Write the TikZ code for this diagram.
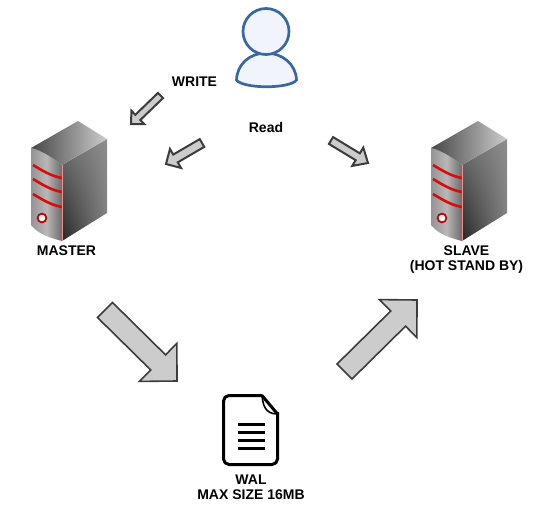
\documentclass[tikz,border=0pt]{standalone}
\usepackage{fontspec}
\usepackage{tikz}
\usetikzlibrary{calc,shadings}
\setmainfont{Liberation Sans}
\definecolor{arrowfill}{HTML}{CCCCCC}
\definecolor{arrowline}{HTML}{3C3C3C}
\definecolor{userline}{HTML}{3A679F}
\definecolor{userfill}{HTML}{F1F4FA}
\definecolor{stripe}{HTML}{DD0A0A}
\newcommand{\blockarrow}[6][1pt]{%
  \draw[blockline, line width=#1]
    ($(#2)!#4!90:(#6)$) -- ($(#2)!#4!-90:(#6)$)
    -- ($(#6)!#5!(#2)!#4!-90:(#6)$) -- ($(#6)!#5!(#2)!#3!-90:(#6)$)
    -- (#6)
    -- ($(#6)!#5!(#2)!#3!90:(#6)$) -- ($(#6)!#5!(#2)!#4!90:(#6)$) -- cycle;}
\newcommand{\server}[2]{%
  \begin{scope}[shift={(#1,#2)}]
    \shade[left color=black!42, right color=black!58, middle color=black!28] (0,27) .. controls (10,29) and (22,37) .. (31,44) -- (31,120) .. controls (20,117) and (8,114) .. (0,104) -- cycle;
    \shade[upper left=black!55, upper right=black!45, lower left=black!85, lower right=black!50] (31,44) -- (76,18) -- (76,92) -- (31,120) -- cycle;
    \shade[left color=black!72, right color=black!20] (0,27) -- (47,0) -- (76,18) -- (31,44) .. controls (22,37) and (10,29) .. (0,27) -- cycle;
    \foreach \y in {0,14,29} {
      \draw[stripe, line width=2.6pt] (2,{44+\y}) .. controls (12,{50+\y}) and (20,{55+\y}) .. (31,{57+\y});
    }
    \draw[stripe!45!white, line width=.3pt] (31,44) -- (31,120);
    \draw[stripe!85!black, line width=1.8pt, fill=white] (11,97) circle (4.4);
  \end{scope}}
\tikzset{
  lbl/.style={font=\bfseries\fontsize{14}{15}\selectfont, align=center, inner sep=0pt},
  blockline/.style={draw=arrowline, fill=arrowfill, line join=miter},
}
\begin{document}
\begin{tikzpicture}[x=1pt, y=-1pt]
  \useasboundingbox (0,0) rectangle (554,517);
  % servers
  \server{31}{121}
  \server{431}{121}
  % user
  \draw[userline, fill=userfill, line width=2.7pt] (236.5,80) .. controls (237,64) and (250,53) .. (266,53) .. controls (282,53) and (296,64) .. (296.5,80) .. controls (290,89) and (243,89) .. (236.5,80) -- cycle;
  \draw[userline, fill=userfill, line width=2.7pt] (266,31.5) circle (23);
  % wal document
  \draw[black, line width=3pt, line join=round, rounded corners=5.5pt] (262,395.5) -- (223.5,395.5) -- (223.5,464.5) -- (277.5,464.5) -- (277.5,412);
  \draw[black, line width=3pt, line cap=round] (277.5,414) -- (262,395.5);
  \draw[black, line width=1.6pt] (262,395.5) .. controls (263,405) and (265,414) .. (277.5,414);
  \foreach \y in {424,432,440,448} {
    \draw[black, line width=3pt] (238,\y) -- (265,\y);
  }
  % labels
  \node[lbl] (write) at (194.5,82) {WRITE};
  \node[lbl] (read) at (266,127) {Read};
  \node[lbl] (master) at (66.5,251) {MASTER};
  \node[lbl] (slave) at (466.5,259.5) {SLAVE\\(HOT STAND BY)};
  \node[lbl] (wal) at (251,487) {WAL\\MAX SIZE 16MB};
  % arrows
  \coordinate (writefrom) at (160.5,95.5);
  \coordinate (writeto) at (131,124);
  \coordinate (readfrom) at (202,143);
  \coordinate (readto) at (166,164);
  \coordinate (copyfrom) at (331,140.5);
  \coordinate (copyto) at (368,163);
  \coordinate (shipfrom) at (105,310);
  \coordinate (shipto) at (177,381);
  \coordinate (replayfrom) at (344.5,371.5);
  \coordinate (replayto) at (417,300);
  \blockarrow[2pt]{writefrom}{9.2pt}{3.6pt}{9.5pt}{writeto}
  \blockarrow[2pt]{readfrom}{11pt}{4.5pt}{11pt}{readto}
  \blockarrow[2pt]{copyfrom}{10.7pt}{4pt}{12pt}{copyto}
  \blockarrow[1.6pt]{shipfrom}{26.7pt}{10.6pt}{26.5pt}{shipto}
  \blockarrow[1.6pt]{replayfrom}{26.7pt}{10.6pt}{26.5pt}{replayto}
\end{tikzpicture}
\end{document}
